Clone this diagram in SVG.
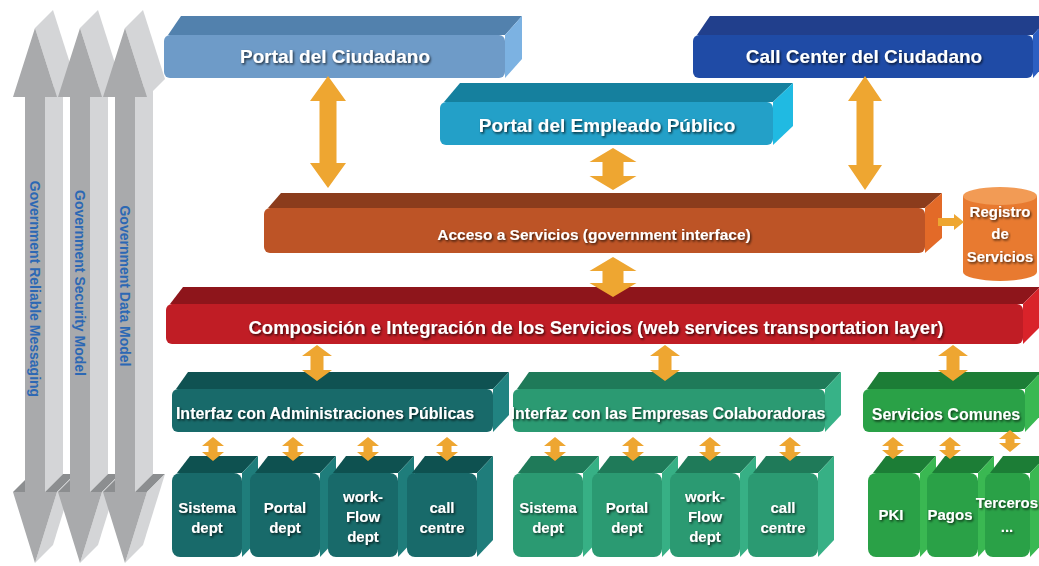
<svg xmlns="http://www.w3.org/2000/svg" width="1039" height="566" viewBox="0 0 1039 566">
  <defs>
    <filter id="sh" x="-10%" y="-40%" width="120%" height="180%">
      <feDropShadow dx="1.2" dy="1.5" stdDeviation="0.8" flood-color="#000" flood-opacity="0.75"/>
    </filter>
    <style>
      .lbl { font-family: "Liberation Sans", Arial, sans-serif; font-weight: bold; fill: #fff; text-anchor: middle; filter: url(#sh); }
      .sub { font-size: 15px; }
      .vt { font-family: "Liberation Sans", Arial, sans-serif; font-weight: bold; fill: #2c68b4; text-anchor: middle; font-size: 14px; }
      .gf { fill: #a9aaac; }
      .gs { fill: #d4d5d7; }
      .gd { fill: #8c8e90; }
      .arr { fill: #eea631; }
    </style>
  </defs>
  <rect width="1039" height="566" fill="#fff"/>

  <!-- vertical cross-cutting pillars (3D double arrows) -->
  <g id="pillar-messaging">
    <polygon class="gs" points="35,28 53,10 75,79 57,97"/>
    <polygon class="gs" points="45,97 63,79 63,474 45,492"/>
    <polygon class="gd" points="45,492 57,492 75,474 63,474"/>
    <polygon class="gd" points="13,492 25,492 43,474 31,474"/>
    <polygon class="gs" points="57,492 75,474 53,545 35,563"/>
    <polygon class="gf" points="35,28 57,97 45,97 45,492 57,492 35,563 13,492 25,492 25,97 13,97"/>
    <text class="vt" transform="translate(35,289) rotate(90)" y="5" font-size="14.5">Government Reliable Messaging</text>
  </g>
  <g id="pillar-security">
    <polygon class="gs" points="80,28 98,10 120,79 102,97"/>
    <polygon class="gs" points="90,97 108,79 108,474 90,492"/>
    <polygon class="gd" points="90,492 102,492 120,474 108,474"/>
    <polygon class="gd" points="58,492 70,492 88,474 76,474"/>
    <polygon class="gs" points="102,492 120,474 98,545 80,563"/>
    <polygon class="gf" points="80,28 102,97 90,97 90,492 102,492 80,563 58,492 70,492 70,97 58,97"/>
    <text class="vt" transform="translate(80,283) rotate(90)" y="5">Government Security Model</text>
  </g>
  <g id="pillar-data">
    <polygon class="gs" points="125,28 143,10 165,79 147,97"/>
    <polygon class="gs" points="135,97 153,79 153,474 135,492"/>
    <polygon class="gd" points="135,492 147,492 165,474 153,474"/>
    <polygon class="gd" points="103,492 115,492 133,474 121,474"/>
    <polygon class="gs" points="147,492 165,474 143,545 125,563"/>
    <polygon class="gf" points="125,28 147,97 135,97 135,492 147,492 125,563 103,492 115,492 115,97 103,97"/>
    <text class="vt" transform="translate(125,286) rotate(90)" y="5">Government Data Model</text>
  </g>

  <!-- top channels -->
  <g id="portal-ciudadano">
    <polygon fill="#5281ad" points="168,35 181,16 522,16 505,35"/>
    <polygon fill="#7cb2e2" points="505,35 522,16 522,59 505,78"/>
    <rect x="164" y="35" width="341" height="43" rx="6" fill="#6e9bc8"/>
    <text class="lbl" x="335" y="63" font-size="19">Portal del Ciudadano</text>
  </g>
  <g id="call-center">
    <polygon fill="#213f8c" points="697,35 710,16 1050,16 1033,35"/>
    <polygon fill="#2c5fc2" points="1033,35 1050,16 1050,59 1033,78"/>
    <rect x="693" y="35" width="340" height="43" rx="6" fill="#1f4ba6"/>
    <text class="lbl" x="864" y="63" font-size="19">Call Center del Ciudadano</text>
  </g>
  <g id="portal-empleado">
    <polygon fill="#15809e" points="444,102 460,83 793,83 773,102"/>
    <polygon fill="#20bae2" points="773,102 793,83 793,126 773,145"/>
    <rect x="440" y="102" width="333" height="43" rx="6" fill="#23a0c8"/>
    <text class="lbl" x="607" y="132" font-size="19">Portal del Empleado Público</text>
  </g>

  <!-- service access layer -->
  <g id="acceso-servicios">
    <polygon fill="#8b3c1c" points="268,208 281,193 942,193 925,208"/>
    <polygon fill="#e36a28" points="925,208 942,193 942,238 925,253"/>
    <rect x="264" y="208" width="661" height="45" rx="6" fill="#bd5426"/>
    <text class="lbl" x="594" y="240" font-size="15.5">Acceso a Servicios (government interface)</text>
  </g>
  <g id="registro-servicios">
    <path d="M963,196 L963,272 A37,9 0 0 0 1037,272 L1037,196 Z" fill="#e87a30"/>
    <ellipse cx="1000" cy="196" rx="37" ry="9" fill="#f29b55"/>
    <text class="lbl" x="1000" y="217" font-size="15">Registro</text>
    <text class="lbl" x="1000" y="239" font-size="15">de</text>
    <text class="lbl" x="1000" y="262" font-size="15">Servicios</text>
  </g>

  <!-- composition layer -->
  <g id="composicion">
    <polygon fill="#8e151b" points="170,304 183,287 1040,287 1023,304"/>
    <polygon fill="#d9232a" points="1023,304 1040,287 1040,327 1023,344"/>
    <rect x="166" y="304" width="857" height="40" rx="6" fill="#c01d25"/>
    <text class="lbl" x="596" y="334" font-size="18.5">Composición e Integración de los Servicios (web services transportation layer)</text>
  </g>

  <!-- interfaces -->
  <g id="interfaz-administraciones">
    <polygon fill="#0f5252" points="176,389 188,372 509,372 493,389"/>
    <polygon fill="#218381" points="493,389 509,372 509,415 493,432"/>
    <rect x="172" y="389" width="321" height="43" rx="6" fill="#186a6a"/>
    <text class="lbl" x="325" y="419" font-size="16">Interfaz con Administraciones Públicas</text>
  </g>
  <g id="interfaz-empresas">
    <polygon fill="#1f7a59" points="517,389 529,372 841,372 825,389"/>
    <polygon fill="#37b287" points="825,389 841,372 841,415 825,432"/>
    <rect x="513" y="389" width="312" height="43" rx="6" fill="#2b9a72"/>
    <text class="lbl" x="668" y="419" font-size="16">Interfaz con las Empresas Colaboradoras</text>
  </g>
  <g id="servicios-comunes">
    <polygon fill="#1c7d36" points="867,389 879,372 1041,372 1025,389"/>
    <polygon fill="#3ab852" points="1025,389 1041,372 1041,415 1025,432"/>
    <rect x="863" y="389" width="162" height="43" rx="6" fill="#2aa147"/>
    <text class="lbl" x="946" y="420" font-size="16">Servicios Comunes</text>
  </g>

  <!-- departmental systems: administrations -->
  <g id="adm-sistema">
    <polygon fill="#0e5150" points="177,473 190,456 258,456 242,473"/>
    <polygon fill="#1f7d7b" points="242,473 258,456 258,540 242,557"/>
    <rect x="172" y="473" width="70" height="84" rx="8" fill="#186a6a"/>
    <text class="lbl sub" x="207" y="513">Sistema</text>
    <text class="lbl sub" x="207" y="533">dept</text>
  </g>
  <g id="adm-portal">
    <polygon fill="#0e5150" points="255,473 268,456 336,456 320,473"/>
    <polygon fill="#1f7d7b" points="320,473 336,456 336,540 320,557"/>
    <rect x="250" y="473" width="70" height="84" rx="8" fill="#186a6a"/>
    <text class="lbl sub" x="285" y="513">Portal</text>
    <text class="lbl sub" x="285" y="533">dept</text>
  </g>
  <g id="adm-workflow">
    <polygon fill="#0e5150" points="333,473 346,456 414,456 398,473"/>
    <polygon fill="#1f7d7b" points="398,473 414,456 414,540 398,557"/>
    <rect x="328" y="473" width="70" height="84" rx="8" fill="#186a6a"/>
    <text class="lbl sub" x="363" y="502">work-</text>
    <text class="lbl sub" x="363" y="522">Flow</text>
    <text class="lbl sub" x="363" y="542">dept</text>
  </g>
  <g id="adm-callcentre">
    <polygon fill="#0e5150" points="412,473 425,456 493,456 477,473"/>
    <polygon fill="#1f7d7b" points="477,473 493,456 493,540 477,557"/>
    <rect x="407" y="473" width="70" height="84" rx="8" fill="#186a6a"/>
    <text class="lbl sub" x="442" y="513">call</text>
    <text class="lbl sub" x="442" y="533">centre</text>
  </g>

  <!-- departmental systems: partner companies -->
  <g id="emp-sistema">
    <polygon fill="#1f7a59" points="518,473 531,456 599,456 583,473"/>
    <polygon fill="#37b085" points="583,473 599,456 599,540 583,557"/>
    <rect x="513" y="473" width="70" height="84" rx="8" fill="#2b9a72"/>
    <text class="lbl sub" x="548" y="513">Sistema</text>
    <text class="lbl sub" x="548" y="533">dept</text>
  </g>
  <g id="emp-portal">
    <polygon fill="#1f7a59" points="597,473 610,456 678,456 662,473"/>
    <polygon fill="#37b085" points="662,473 678,456 678,540 662,557"/>
    <rect x="592" y="473" width="70" height="84" rx="8" fill="#2b9a72"/>
    <text class="lbl sub" x="627" y="513">Portal</text>
    <text class="lbl sub" x="627" y="533">dept</text>
  </g>
  <g id="emp-workflow">
    <polygon fill="#1f7a59" points="675,473 688,456 756,456 740,473"/>
    <polygon fill="#37b085" points="740,473 756,456 756,540 740,557"/>
    <rect x="670" y="473" width="70" height="84" rx="8" fill="#2b9a72"/>
    <text class="lbl sub" x="705" y="502">work-</text>
    <text class="lbl sub" x="705" y="522">Flow</text>
    <text class="lbl sub" x="705" y="542">dept</text>
  </g>
  <g id="emp-callcentre">
    <polygon fill="#1f7a59" points="753,473 766,456 834,456 818,473"/>
    <polygon fill="#37b085" points="818,473 834,456 834,540 818,557"/>
    <rect x="748" y="473" width="70" height="84" rx="8" fill="#2b9a72"/>
    <text class="lbl sub" x="783" y="513">call</text>
    <text class="lbl sub" x="783" y="533">centre</text>
  </g>

  <!-- shared services -->
  <g id="com-pki">
    <polygon fill="#1c7d36" points="873,473 886,456 936,456 920,473"/>
    <polygon fill="#3ab852" points="920,473 936,456 936,540 920,557"/>
    <rect x="868" y="473" width="52" height="84" rx="8" fill="#2aa147"/>
    <text class="lbl sub" x="891" y="520">PKI</text>
  </g>
  <g id="com-pagos">
    <polygon fill="#1c7d36" points="932,473 945,456 994,456 978,473"/>
    <polygon fill="#3ab852" points="978,473 994,456 994,540 978,557"/>
    <rect x="927" y="473" width="51" height="84" rx="8" fill="#2aa147"/>
    <text class="lbl sub" x="950" y="520">Pagos</text>
  </g>
  <g id="com-terceros">
    <polygon fill="#1c7d36" points="990,473 1003,456 1046,456 1030,473"/>
    <polygon fill="#3ab852" points="1030,473 1046,456 1046,540 1030,557"/>
    <rect x="985" y="473" width="45" height="84" rx="8" fill="#2aa147"/>
    <text class="lbl sub" x="1007" y="508">Terceros</text>
    <text class="lbl sub" x="1007" y="532">...</text>
  </g>

  <!-- connectors -->
  <g id="connectors" class="arr">
    <polygon points="328,76 346,101 336.5,101 336.5,163 346,163 328,188 310,163 319.5,163 319.5,101 310,101"/>
    <polygon points="613,148 636.5,162 623.5,162 623.5,176 636.5,176 613,190 589.5,176 602.5,176 602.5,162 589.5,162"/>
    <polygon points="865,76 882,101 873.5,101 873.5,165 882,165 865,190 848,165 856.5,165 856.5,101 848,101"/>
    <polygon points="613,257 636.5,271 623.5,271 623.5,283 636.5,283 613,297 589.5,283 602.5,283 602.5,271 589.5,271"/>
    <polygon points="317,345 332,356 323.5,356 323.5,370 332,370 317,381 302,370 310.5,370 310.5,356 302,356"/>
    <polygon points="665,345 680,356 671.5,356 671.5,370 680,370 665,381 650,370 658.5,370 658.5,356 650,356"/>
    <polygon points="953,345 968,356 959.5,356 959.5,370 968,370 953,381 938,370 946.5,370 946.5,356 938,356"/>
    <polygon points="938,218 954,218 954,214 964,222 954,230 954,226 938,226"/>
    <polygon points="213,437 224,446 217.5,446 217.5,452 224,452 213,461 202,452 208.5,452 208.5,446 202,446"/>
    <polygon points="293,437 304,446 297.5,446 297.5,452 304,452 293,461 282,452 288.5,452 288.5,446 282,446"/>
    <polygon points="368,437 379,446 372.5,446 372.5,452 379,452 368,461 357,452 363.5,452 363.5,446 357,446"/>
    <polygon points="447,437 458,446 451.5,446 451.5,452 458,452 447,461 436,452 442.5,452 442.5,446 436,446"/>
    <polygon points="555,437 566,446 559.5,446 559.5,452 566,452 555,461 544,452 550.5,452 550.5,446 544,446"/>
    <polygon points="633,437 644,446 637.5,446 637.5,452 644,452 633,461 622,452 628.5,452 628.5,446 622,446"/>
    <polygon points="710,437 721,446 714.5,446 714.5,452 721,452 710,461 699,452 705.5,452 705.5,446 699,446"/>
    <polygon points="790,437 801,446 794.5,446 794.5,452 801,452 790,461 779,452 785.5,452 785.5,446 779,446"/>
    <polygon points="893,437 904,446 897.5,446 897.5,450 904,450 893,459 882,450 888.5,450 888.5,446 882,446"/>
    <polygon points="950,437 961,446 954.5,446 954.5,450 961,450 950,459 939,450 945.5,450 945.5,446 939,446"/>
    <polygon points="1010,430 1021,439 1014.5,439 1014.5,443 1021,443 1010,452 999,443 1005.5,443 1005.5,439 999,439"/>
  </g>
</svg>
